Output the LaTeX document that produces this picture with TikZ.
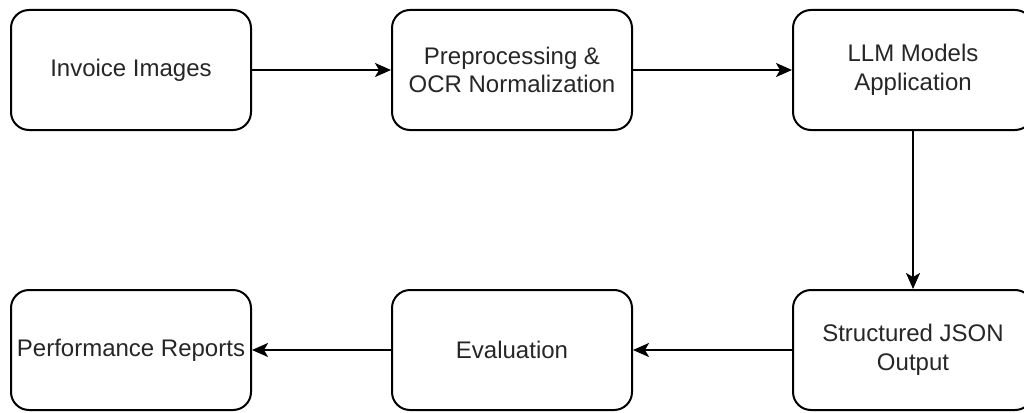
\documentclass[tikz,border=0pt]{standalone}
\usepackage{fontspec}
\setmainfont{Liberation Sans}
\usetikzlibrary{arrows.meta}
\begin{document}
\begin{tikzpicture}[x=1pt,y=-1pt,
  box/.style={draw=black,line width=2pt,rounded corners=18pt,minimum width=240pt,minimum height=120pt,
    align=center,inner sep=0pt,text=black!85,font=\fontsize{24}{28.8}\selectfont},
  conn/.style={draw=black,line width=2pt,-{Stealth[length=16pt,width=14pt,inset=4pt]}}]
\useasboundingbox (0,0) rectangle (1024,412);
\node[box] (inv) at (131,70) {Invoice Images};
\node[box] (pre) at (512,70) {Preprocessing \&\\OCR Normalization};
\node[box] (llm) at (913,70) {LLM Models\\Application};
\node[box] (perf) at (131,350) {Performance Reports};
\node[box] (eval) at (512,350) {Evaluation};
\node[box] (json) at (913,350) {Structured JSON\\Output};
\draw[conn] (inv) -- (pre);
\draw[conn] (pre) -- (llm);
\draw[conn] (llm) -- (json);
\draw[conn] (json) -- (eval);
\draw[conn] (eval) -- (perf);
\end{tikzpicture}
\end{document}
